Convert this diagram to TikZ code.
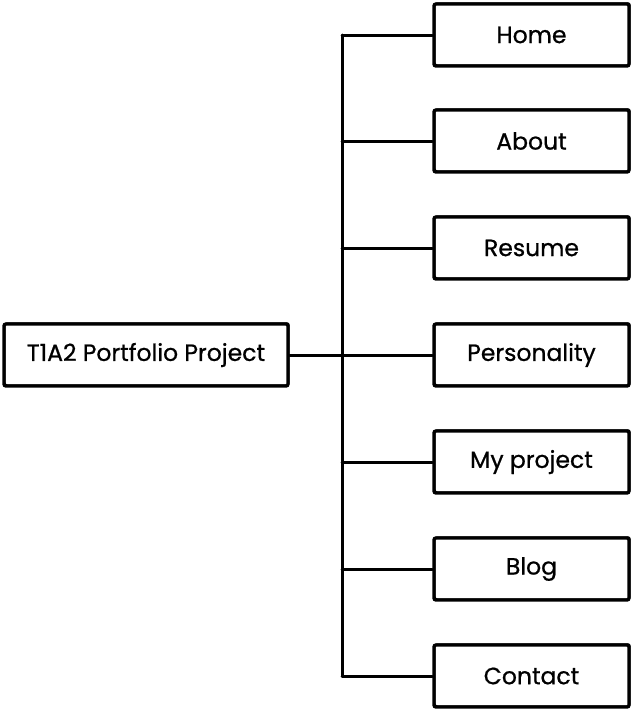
\documentclass[tikz,border=0pt]{standalone}
\usepackage{fontspec}
\setmainfont{Poppins}[FakeBold=0.8]
\begin{document}
\begin{tikzpicture}[x=1pt,y=-1pt,
  sketchbox/.style={draw=black, line width=3.4pt, rounded corners=2pt, fill=white,
    minimum height=62pt, inner sep=0pt, font=\fontsize{23.5}{28}\selectfont,
    postaction={draw, line width=1.4pt, transform canvas={shift={(1pt,1pt)}}}},
  leaf/.style={sketchbox, minimum width=195pt},
  root/.style={sketchbox, minimum width=284pt},
  link/.style={draw=black, line width=3pt, line cap=round}]
\useasboundingbox (0,0) rectangle (632,712);
% root box
\node[root] (root) at (146,355) {T1A2 Portfolio Project};
% page boxes
\node[leaf] (home)  at (531.5,35)  {Home};
\node[leaf] (about) at (531.5,141) {About};
\node[leaf] (res)   at (531.5,248) {Resume};
\node[leaf] (pers)  at (531.5,355) {Personality};
\node[leaf] (proj)  at (531.5,462) {My project};
\node[leaf] (blog)  at (531.5,569) {Blog};
\node[leaf] (cont)  at (531.5,676) {Contact};
% trunk
\coordinate (top) at (342,35);
\coordinate (bot) at (342,676);
\coordinate (mid) at (342,355);
\draw[link] (top) -- (bot);
\draw[link] (root.east) -- (mid);
\foreach \n in {home,about,res,pers,proj,blog,cont}
  \draw[link] (\n.west) -- (342,0 |- \n.west);
\end{tikzpicture}
\end{document}
